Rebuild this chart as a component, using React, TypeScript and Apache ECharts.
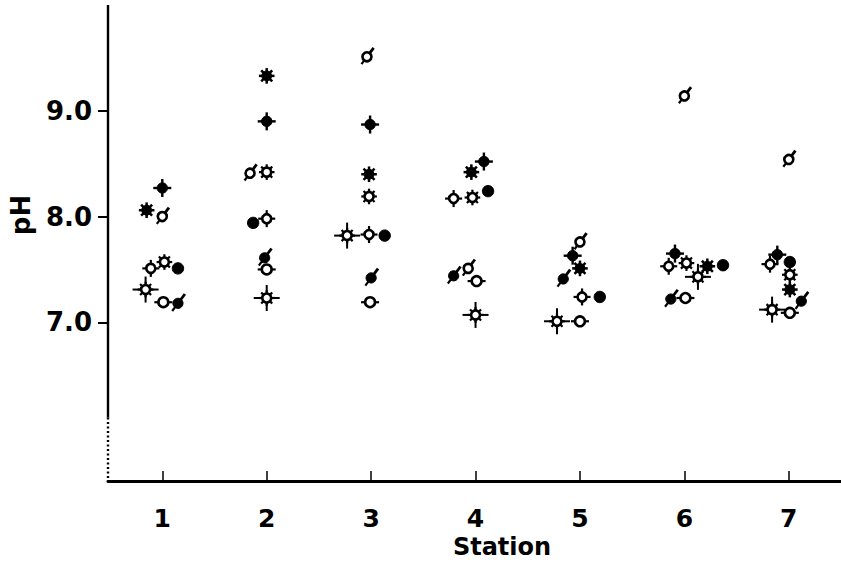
import { useEffect, useRef } from 'react';
import * as echarts from 'echarts';

// Stations along the x axis and labelled pH ticks
const stations = [1, 2, 3, 4, 5, 6, 7];
const pHTicks = [7.0, 8.0, 9.0];

// pH values per symbol (one per station) and horizontal offsets (in station units) as drawn
const filledSpikeVals = [8.27, 8.90, 8.87, 8.52, 7.63, 7.65, 7.64];
const filledSpikeOff = [0, 0, -0.01, 0.08, -0.07, -0.09, -0.11];

const filledStarVals = [8.06, 9.33, 8.40, 8.42, 7.51, 7.53, 7.31];
const filledStarOff = [-0.15, 0, -0.02, -0.04, 0, 0.22, 0.01];

const openSlashVals = [8.00, 8.41, 9.51, 7.51, 7.76, 9.14, 8.54];
const openSlashOff = [0, -0.16, -0.04, -0.07, 0, 0, 0];

const filledSlashVals = [7.18, 7.61, 7.42, 7.44, 7.41, 7.22, 7.20];
const filledSlashOff = [0.15, -0.02, 0, -0.21, -0.16, -0.13, 0.12];

const openTickVals = [7.51, 7.98, 7.83, 8.17, 7.24, 7.53, 7.55];
const openTickOff = [-0.11, 0, -0.02, -0.21, 0.02, -0.15, -0.18];

const openSunVals: (number | null)[] = [7.57, 8.42, 8.19, 8.18, null, 7.56, 7.45];
const openSunOff = [0.02, 0, -0.02, -0.03, 0, 0.02, 0.01];

const crossSunVals = [7.31, 7.23, 7.82, 7.07, 7.01, 7.43, 7.12];
const crossSunOff = [-0.16, 0, -0.23, 0, -0.22, 0.13, -0.16];

const filledDotVals = [7.51, 7.94, 7.82, 8.24, 7.24, 7.54, 7.57];
const filledDotOff = [0.15, -0.13, 0.13, 0.12, 0.19, 0.37, 0.01];

const openBarVals = [7.19, 7.50, 7.19, 7.39, 7.01, 7.23, 7.09];
const openBarOff = [0.01, 0, -0.01, 0.01, 0, 0.01, 0.01];

type Kind =
  | 'filledSpike'
  | 'filledStar'
  | 'openSlash'
  | 'filledSlash'
  | 'openTick'
  | 'openSun'
  | 'crossSun'
  | 'filledDot'
  | 'openBar';

const INK = '#000';

function ray(angle: number, r1: number, r2: number, w: number) {
  const c = Math.cos(angle);
  const s = Math.sin(angle);
  return {
    type: 'line',
    shape: { x1: c * r1, y1: s * r1, x2: c * r2, y2: s * r2 },
    style: { stroke: INK, lineWidth: w, lineCap: 'butt' },
  };
}

function circ(r: number, filled: boolean) {
  return {
    type: 'circle',
    shape: { cx: 0, cy: 0, r },
    style: filled
      ? { fill: INK, stroke: INK, lineWidth: 1 }
      : { fill: '#fff', stroke: INK, lineWidth: 2.6 },
  };
}

function slash(r: number) {
  const up = Math.atan2(-0.8, 0.6);
  const down = Math.atan2(0.8, -0.6);
  return [ray(up, r - 1, r + 6.5, 2.8), ray(down, r - 1, r + 4.5, 2.2)];
}

function makeSymbol(kind: Kind): any[] {
  const quarter = [0, Math.PI / 2, Math.PI, (3 * Math.PI) / 2];
  const eighth = Array.from({ length: 8 }, (_, i) => (i * Math.PI) / 4);
  switch (kind) {
    case 'filledSpike':
      return [...quarter.map((a) => ray(a, 3, 9, 2.4)), circ(5.2, true)];
    case 'filledStar':
      return [...eighth.map((a) => ray(a, 3, 7.8, 2.5)), circ(4.9, true)];
    case 'openSlash':
      return [...slash(4.6), circ(4.5, false)];
    case 'filledSlash':
      return [...slash(5.1), circ(5.1, true)];
    case 'openTick':
      return [...quarter.map((a) => ray(a, 3, 8.5, 2.2)), circ(4.5, false)];
    case 'openSun':
      return [...eighth.map((a) => ray(a, 3, 7.8, 2.2)), circ(4.5, false)];
    case 'crossSun':
      return [
        ...eighth.map((a) => ray(a, 3, 7.8, 2.2)),
        ...quarter.map((a) => ray(a, 3, 13, 2)),
        circ(4.5, false),
      ];
    case 'filledDot':
      return [circ(5.7, true)];
    case 'openBar':
      return [ray(0, 3, 9, 2.2), ray(Math.PI, 3, 9, 2.2), circ(4.9, false)];
  }
}

function buildData(vals: (number | null)[], offs: number[]) {
  const out: number[][] = [];
  stations.forEach((s, i) => {
    const v = vals[i];
    if (v !== null && v !== undefined) out.push([s + offs[i], v]);
  });
  return out;
}

const groups: { kind: Kind; vals: (number | null)[]; offs: number[] }[] = [
  { kind: 'crossSun', vals: crossSunVals, offs: crossSunOff },
  { kind: 'openBar', vals: openBarVals, offs: openBarOff },
  { kind: 'openTick', vals: openTickVals, offs: openTickOff },
  { kind: 'openSun', vals: openSunVals, offs: openSunOff },
  { kind: 'openSlash', vals: openSlashVals, offs: openSlashOff },
  { kind: 'filledDot', vals: filledDotVals, offs: filledDotOff },
  { kind: 'filledSlash', vals: filledSlashVals, offs: filledSlashOff },
  { kind: 'filledStar', vals: filledStarVals, offs: filledStarOff },
  { kind: 'filledSpike', vals: filledSpikeVals, offs: filledSpikeOff },
];

const FONT = "'DejaVu Sans', 'Liberation Sans', sans-serif";

export default function App() {
  const ref = useRef<HTMLDivElement>(null);

  useEffect(() => {
    if (!ref.current) return;
    const chart = echarts.init(ref.current, null, { renderer: 'svg' });

    const series = groups.map((g) => ({
      type: 'custom',
      name: g.kind,
      clip: false,
      data: buildData(g.vals, g.offs),
      renderItem: (_params: any, api: any) => {
        const p = api.coord([api.value(0), api.value(1)]);
        return { type: 'group', x: p[0], y: p[1], children: makeSymbol(g.kind) };
      },
    }));

    chart.setOption({
      animation: false,
      backgroundColor: '#fff',
      grid: { left: 108, right: 0, top: 5, bottom: 83 },
      xAxis: {
        type: 'value',
        min: 0.48,
        max: 7.5,
        splitLine: { show: false },
        axisLine: { show: true, onZero: false, lineStyle: { color: INK, width: 3 } },
        axisTick: {
          show: true,
          inside: true,
          length: 10,
          customValues: stations,
          lineStyle: { color: INK, width: 1.5 },
        },
        axisLabel: {
          customValues: stations,
          margin: 25,
          color: INK,
          fontSize: 25,
          fontWeight: 'bold',
          fontFamily: FONT,
          formatter: (v: number) => String(Math.round(v)),
        },
      },
      yAxis: {
        type: 'value',
        min: 5.5,
        max: 10,
        splitLine: { show: false },
        axisLine: { show: false },
        axisTick: {
          show: true,
          inside: false,
          length: 10,
          customValues: pHTicks,
          lineStyle: { color: INK, width: 2 },
        },
        axisLabel: {
          customValues: pHTicks,
          margin: 16,
          color: INK,
          fontSize: 26,
          fontWeight: 'bold',
          fontFamily: FONT,
          formatter: (v: number) => v.toFixed(1),
        },
      },
      series,
    });

    const top = chart.convertToPixel({ gridIndex: 0 }, [0.48, 10]) as number[];
    const mid = chart.convertToPixel({ gridIndex: 0 }, [0.48, 6.1]) as number[];
    const bot = chart.convertToPixel({ gridIndex: 0 }, [0.48, 5.5]) as number[];

    chart.setOption({
      graphic: [
        {
          type: 'line',
          shape: { x1: top[0], y1: top[1], x2: mid[0], y2: mid[1] },
          style: { stroke: INK, lineWidth: 2.4 },
          z: 10,
        },
        {
          type: 'line',
          shape: { x1: mid[0], y1: mid[1], x2: bot[0], y2: bot[1] },
          style: { stroke: INK, lineWidth: 2.4, lineDash: [2, 2.5] },
          z: 10,
        },
        {
          type: 'text',
          x: 21,
          y: 215,
          rotation: Math.PI / 2,
          style: {
            text: 'pH',
            fill: INK,
            font: `bold 26px ${FONT}`,
            align: 'center',
            verticalAlign: 'middle',
          },
        },
        {
          type: 'text',
          x: 502,
          y: 547,
          style: {
            text: 'Station',
            fill: INK,
            font: `bold 24px ${FONT}`,
            align: 'center',
            verticalAlign: 'middle',
          },
        },
      ],
    });

    return () => chart.dispose();
  }, []);

  return (
    <div
      ref={ref}
      style={{ position: 'fixed', left: 0, top: 0, width: 841, height: 564, background: '#fff' }}
    />
  );
}
